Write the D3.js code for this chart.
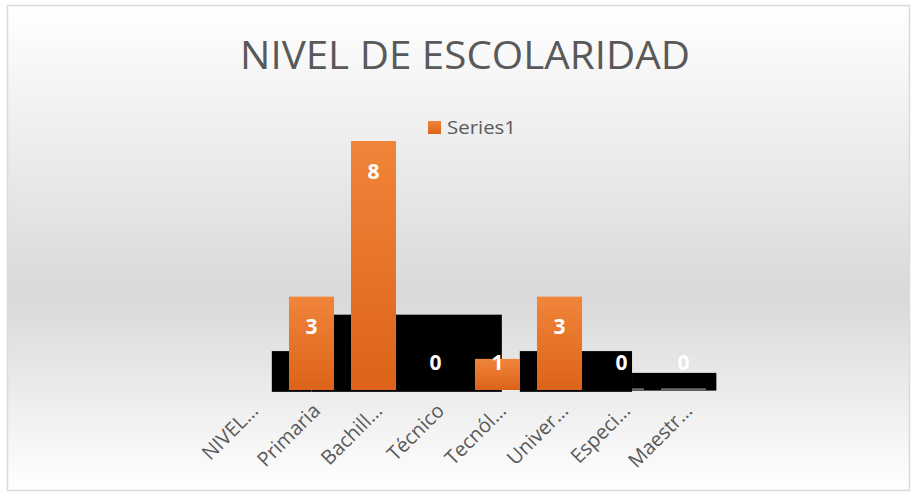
<!DOCTYPE html>
<html>
<head>
<meta charset="utf-8">
<script src="https://cdn.jsdelivr.net/npm/d3@7"></script>
<style>
  body { margin: 0; background: #fff; }
  text { font-family: "Open Sans", sans-serif; }
</style>
</head>
<body>
<svg id="chart"></svg>
<script>
var width = 913;
var height = 493;

// categories and values (first one has no value)
var categories = ["NIVEL…", "Primaria", "Bachill…", "Técnico", "Tecnól…", "Univer…", "Especi…", "Maestr…"];
var values = [null, 3, 8, 0, 1, 3, 0, 0];
var seriesName = "Series1";
var title = "NIVEL DE ESCOLARIDAD";

// black blocks seen behind the bars, in category units / value units
var blockFrom = [0.86, 1.5, 4.86, 6.67];
var blockTo = [1.5, 4.57, 6.67, 8.03];
var blockTop = [1.25, 2.42, 1.25, 0.55];
var blockBottom = [-0.06, -0.06, -0.06, -0.02];
var blockLayer = [1, 1, 1, 0];

var y = d3.scaleLinear()
    .domain([0, 8])
    .range([390, 141]);

var x = d3.scaleBand()
    .domain(categories)
    .range([218.5, 714.5])
    .paddingInner(0.274)
    .paddingOuter(0.137);

var xu = d3.scaleLinear()
    .domain([0, categories.length])
    .range([218.5, 714.5]);

var chart = d3.select("#chart")
    .attr("width", width)
    .attr("height", height);

var defs = chart.append("defs");

var bg = defs.append("linearGradient")
    .attr("id", "bg")
    .attr("x1", 0).attr("y1", 0).attr("x2", 0).attr("y2", 1);
bg.append("stop").attr("offset", "0").attr("stop-color", "#ffffff");
bg.append("stop").attr("offset", "0.6").attr("stop-color", "#d9d9d9");
bg.append("stop").attr("offset", "1").attr("stop-color", "#ffffff");

var barGrad = defs.append("linearGradient")
    .attr("id", "bargrad")
    .attr("x1", 0).attr("y1", 0).attr("x2", 0).attr("y2", 1);
barGrad.append("stop").attr("offset", "0").attr("stop-color", "#f0853a");
barGrad.append("stop").attr("offset", "1").attr("stop-color", "#dc6318");

// chart area
chart.append("rect")
    .attr("x", 7.5)
    .attr("y", 5.5)
    .attr("width", 902)
    .attr("height", 485)
    .attr("fill", "url(#bg)")
    .attr("stroke", "#d9d9d9")
    .attr("stroke-width", 1.5);

chart.append("text")
    .attr("x", 465)
    .attr("y", 69)
    .attr("text-anchor", "middle")
    .attr("font-size", 38)
    .attr("fill", "#595959")
    .attr("textLength", 450)
    .attr("lengthAdjust", "spacingAndGlyphs")
    .text(title);

// legend
chart.append("rect")
    .attr("x", 428)
    .attr("y", 121)
    .attr("width", 13)
    .attr("height", 13)
    .attr("fill", "url(#bargrad)");

chart.append("text")
    .attr("x", 447)
    .attr("y", 134)
    .attr("font-size", 19)
    .attr("fill", "#595959")
    .attr("textLength", 69)
    .attr("lengthAdjust", "spacingAndGlyphs")
    .text(seriesName);

function drawBlocks(layer) {
    d3.range(blockFrom.length).forEach(function(i) {
        if (blockLayer[i] !== layer) return;
        chart.append("rect")
            .attr("class", "block")
            .attr("x", xu(blockFrom[i]))
            .attr("y", y(blockTop[i]))
            .attr("width", xu(blockTo[i]) - xu(blockFrom[i]))
            .attr("height", y(blockBottom[i]) - y(blockTop[i]))
            .attr("fill", "#000");
    });
}

drawBlocks(0);

var data = categories.map(function(c, i) { return {cat: c, v: values[i]}; });

//zero bars show as a faint line
chart.selectAll(".zerobar")
    .data(data.filter(function(d) { return d.v === 0; }))
  .enter().append("rect")
    .attr("class", "zerobar")
    .attr("x", function(d) { return x(d.cat); })
    .attr("y", y(0) - 1.5)
    .attr("width", x.bandwidth())
    .attr("height", 1.2)
    .attr("fill", "#9a9a9a");

drawBlocks(1);

chart.selectAll(".bar")
    .data(data.filter(function(d) { return d.v > 0; }))
  .enter().append("rect")
    .attr("class", "bar")
    .attr("x", function(d) { return x(d.cat); })
    .attr("y", function(d) { return y(d.v); })
    .attr("width", x.bandwidth())
    .attr("height", function(d) { return y(0) - y(d.v); })
    .attr("fill", "url(#bargrad)");

// data labels
chart.selectAll(".lbl")
    .data(data.filter(function(d) { return d.v !== null; }))
  .enter().append("text")
    .attr("class", "lbl")
    .attr("x", function(d) { return x(d.cat) + x.bandwidth() / 2; })
    .attr("y", function(d) { return Math.min(y(d.v) + 30, y(0) - 28); })
    .attr("dy", "0.36em")
    .attr("text-anchor", "middle")
    .attr("font-size", 21)
    .attr("font-weight", "bold")
    .attr("fill", "#fff")
    .text(function(d) { return d.v; });

// category axis, rotated labels
chart.selectAll(".tick")
    .data(categories)
  .enter().append("text")
    .attr("class", "tick")
    .attr("transform", function(d) {
        return "translate(" + (x(d) + x.bandwidth() / 2 + 10) + ",412) rotate(-45)";
    })
    .attr("text-anchor", "end")
    .attr("font-size", 20)
    .attr("fill", "#595959")
    .text(function(d) { return d; });
</script>
</body>
</html>
